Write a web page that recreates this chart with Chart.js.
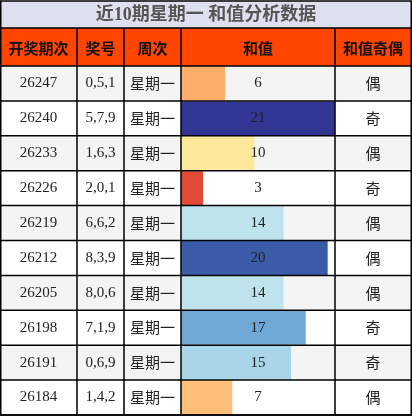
<!DOCTYPE html><html><head><meta charset="utf-8">
<script src="https://cdn.jsdelivr.net/npm/chart.js@4"></script>
<style>html,body{margin:0;padding:0;background:#fff}#w{width:412px;height:417px}</style></head><body>
<div id="w"><canvas id="c"></canvas></div>
<script>
const title = '近10期星期一 和值分析数据';
const headers = ['开奖期次','奖号','周次','和值','和值奇偶'];
const periods = ['26247','26240','26233','26226','26219','26212','26205','26198','26191','26184'];
const numbers = ['0,5,1','5,7,9','1,6,3','2,0,1','6,6,2','8,3,9','8,0,6','7,1,9','0,6,9','1,4,2'];
const weekdays = ['星期一','星期一','星期一','星期一','星期一','星期一','星期一','星期一','星期一','星期一'];
const sums = [6,21,10,3,14,20,14,17,15,7];
const parity = ['偶','奇','偶','奇','偶','偶','偶','奇','奇','偶'];
const barColors = ['#fdae6b','#313695','#fee99a','#e34a33','#bfe3ec','#3a5ba8','#bfe3ec','#6fa8d4','#a8d5e8','#fdbf7a'];
const cols = [0,77,124,181,335,411];
const T0=1, T1=28, H1=66, B=415;
const tablePlugin = {
  id:'tbl',
  beforeDatasetsDraw(ch){
    const ctx=ch.ctx, rh=(B-H1)/10;
    ctx.save();
    ctx.fillStyle='#dde0ef';ctx.fillRect(0,T0,412,T1-T0);
    ctx.fillStyle='#ff4500';ctx.fillRect(0,T1,412,H1-T1);
    for(let i=0;i<10;i++){ctx.fillStyle=i%2?'#ffffff':'#f4f4f4';ctx.fillRect(0,H1+i*rh,412,rh);}
    ctx.restore();
  },
  afterDraw(ch){
    const ctx=ch.ctx, rh=(B-H1)/10;
    ctx.save();
    ctx.textAlign='center';ctx.textBaseline='middle';
    ctx.fillStyle='#555';ctx.font='bold 18px "Liberation Serif","Noto Sans CJK SC"';
    ctx.fillText(title,206,(T0+T1)/2+1);
    ctx.fillStyle='#111';ctx.font='bold 15px "Noto Sans CJK SC"';
    headers.forEach((h,j)=>ctx.fillText(h,(cols[j]+cols[j+1])/2,(T1+H1)/2+1));
    for(let i=0;i<10;i++){
      const y=H1+i*rh+rh/2;
      ctx.fillStyle='#222';
      ctx.font='15px "Liberation Serif"';
      ctx.fillText(periods[i],(cols[0]+cols[1])/2,y);
      ctx.fillText(numbers[i],(cols[1]+cols[2])/2,y);
      ctx.fillText(String(sums[i]),(cols[3]+cols[4])/2,y);
      ctx.font='15px "Noto Sans CJK SC"';
      ctx.fillText(weekdays[i],(cols[2]+cols[3])/2,y);
      ctx.fillText(parity[i],(cols[4]+cols[5])/2,y);
    }
    ctx.strokeStyle='#000';ctx.lineWidth=1.5;
    ctx.strokeRect(0.75,T0,410.5,B-T0);
    ctx.beginPath();
    ctx.moveTo(0,T1);ctx.lineTo(412,T1);
    for(let i=0;i<=10;i++){ctx.moveTo(0,H1+i*rh);ctx.lineTo(412,H1+i*rh);}
    for(let j=1;j<5;j++){ctx.moveTo(cols[j],T1);ctx.lineTo(cols[j],B);}
    ctx.stroke();
    ctx.restore();
  }
};
new Chart(document.getElementById('c'),{
  type:'bar',
  data:{labels:periods,datasets:[{data:sums,backgroundColor:barColors,categoryPercentage:1,barPercentage:0.97}]},
  options:{indexAxis:'y',responsive:true,maintainAspectRatio:false,animation:false,
    layout:{padding:{left:181,right:77,top:H1,bottom:417-B}},
    plugins:{legend:{display:false},tooltip:{enabled:false}},
    scales:{x:{display:false,min:0,max:21},y:{display:false}}},
  plugins:[tablePlugin]
});
</script></body></html>
